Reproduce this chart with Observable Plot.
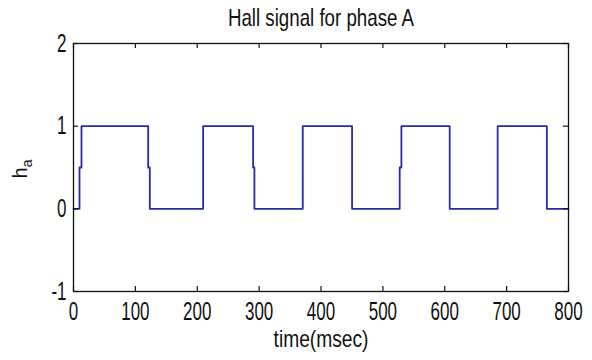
<!DOCTYPE html>
<html>
<head>
<meta charset="utf-8">
<script src="https://cdn.jsdelivr.net/npm/d3@7"></script>
<script src="https://cdn.jsdelivr.net/npm/@observablehq/plot@0.6"></script>
<style>
  html, body { margin: 0; padding: 0; background: #fff; }
  #chart svg { display: block; }
</style>
</head>
<body>
<div id="chart"></div>
<script>
// Hall signal for phase A
const timeMs = [0, 9.7, 9.7, 12.9, 12.9, 120.7, 120.7, 123.3, 123.3, 209.5, 209.5, 290.3, 290.3, 292.4, 292.4, 370.5, 370.5, 450.2, 450.2, 527.2, 527.2, 529.9, 529.9, 608, 608, 685.5, 685.5, 765, 765, 800];
const hallA  = [0,   0,   0.5, 0.5,  1,    1,     0.5,   0.5,   0,     0,     1,     1,     0.5,   0.5,   0,     0,     1,     1,     0,     0,     0.5,   0.5,   1,     1,   0,   0,     1,     1,   0,   0];
const xTicks = [0, 100, 200, 300, 400, 500, 600, 700, 800];
const yTicks = [-1, 0, 1, 2];
const titleText = "Hall signal for phase A";
const xLabel = "time(msec)";

const data = timeMs.map((t, i) => ({t, v: hallA[i]}));

const W = 592, H = 360;
const mL = 73, mR = 24, mT = 43, mB = 69;
const innerH = H - mT - mB;
const innerW = W - mL - mR;
const font = "'Liberation Sans', Arial, sans-serif";
const fmt = d => (d < 0 ? "-" + Math.abs(d) : String(d));

const plot = Plot.plot({
  width: W,
  height: H,
  marginLeft: mL,
  marginRight: mR,
  marginTop: mT,
  marginBottom: mB,
  style: {fontFamily: font, fontSize: "25px", color: "#111", background: "#fff"},
  x: {domain: [0, 800], label: null},
  y: {domain: [-1, 2], label: null},
  marks: [
    Plot.line(data, {x: "t", y: "v", stroke: "#2a2aa8", strokeWidth: 1.8, curve: "linear"}),
    // inward ticks, MATLAB style
    Plot.tickX(xTicks, {x: d => d, insetTop: innerH - 5, stroke: "#111", strokeWidth: 1.2}),
    Plot.tickX(xTicks, {x: d => d, insetBottom: innerH - 5, stroke: "#111", strokeWidth: 1.2}),
    Plot.tickY(yTicks, {y: d => d, insetRight: innerW - 5, stroke: "#111", strokeWidth: 1.2}),
    Plot.tickY(yTicks, {y: d => d, insetLeft: innerW - 5, stroke: "#111", strokeWidth: 1.2}),
    Plot.frame({stroke: "#111", strokeWidth: 1.3}),
    Plot.axisX(xTicks, {anchor: "bottom", tickSize: 0, tickPadding: 11, label: null, fontSize: 25, tickFormat: fmt}),
    Plot.axisY(yTicks, {anchor: "left", tickSize: 0, tickPadding: 7, label: null, fontSize: 25, tickFormat: fmt}),
    Plot.text([titleText], {frameAnchor: "top", dy: -35, fontSize: 24, fill: "#111"}),
    Plot.text([xLabel], {frameAnchor: "bottom", dy: 55, fontSize: 24, fill: "#111"})
  ]
});

// narrow, MATLAB-like glyphs: compress text horizontally around its anchor
function squeezeEl(node, sx) {
  const el = d3.select(node);
  const t = el.attr("transform");
  if (t) {
    el.attr("transform", t + ` scale(${sx},1)`);
  } else {
    const x = +el.attr("x") || 0, y = +el.attr("y") || 0;
    el.attr("x", null).attr("y", null).attr("transform", `translate(${x},${y}) scale(${sx},1)`);
  }
}
const svg = d3.select(plot);
svg.selectAll("text").each(function () {
  const s = this.textContent;
  if (s === titleText) squeezeEl(this, 0.78);
  else if (s === xLabel) squeezeEl(this, 0.8);
  else squeezeEl(this, 0.68);
});

// y-axis label h with subscript a
const yl = svg.append("text")
  .attr("transform", `translate(27,${mT + innerH / 2 + 2}) rotate(-90)`)
  .attr("text-anchor", "middle")
  .attr("font-family", font)
  .attr("font-size", 20)
  .attr("fill", "#111");
yl.append("tspan").text("h");
yl.append("tspan").attr("font-size", 14).attr("dy", 5).text("a");

document.getElementById("chart").appendChild(plot);
</script>
</body>
</html>
